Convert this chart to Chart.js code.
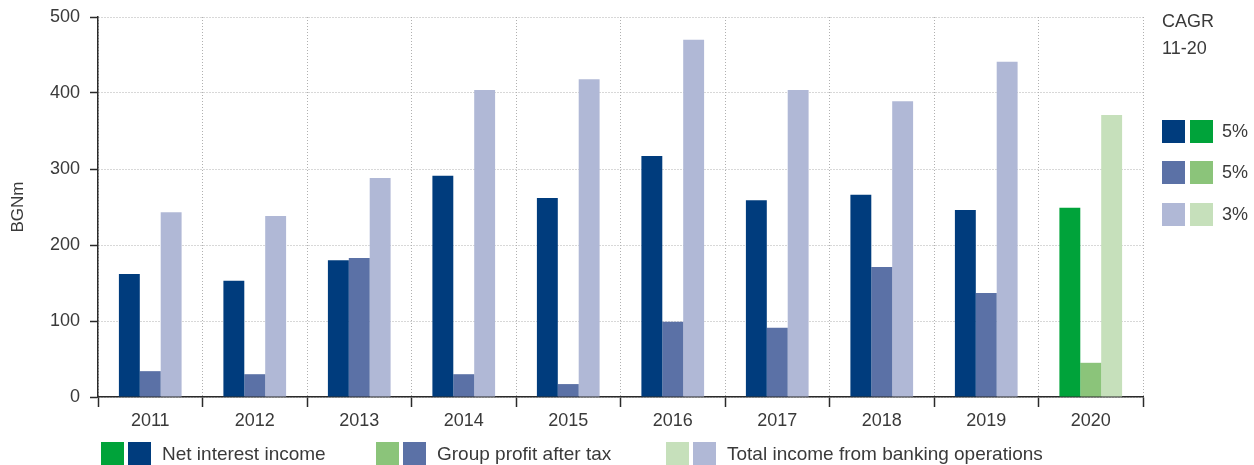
<!DOCTYPE html>
<html>
<head>
<meta charset="utf-8">
<script src="https://cdn.jsdelivr.net/npm/chart.js@4"></script>
<style>
    html, body { margin: 0; padding: 0; background: #fff; }
    #wrap { width: 1254px; height: 465px; }
</style>
</head>
<body>
<div id="wrap"><canvas id="chart" width="1254" height="465"></canvas></div>
<script>
// Données (BGNm)
const years = ['2011', '2012', '2013', '2014', '2015', '2016', '2017', '2018', '2019', '2020'];
const netInterest = [162, 153, 180, 291, 262, 317, 259, 266, 246, 249];
const profitAfterTax = [34, 30, 183, 30, 17, 99, 91, 171, 137, 45];
const totalIncome = [243, 238, 288, 404, 418, 470, 404, 389, 441, 371];
const yTicks = [0, 100, 200, 300, 400, 500];
const seriesNames = ['Net interest income', 'Group profit after tax', 'Total income from banking operations'];
const cagrValues = ['5%', '5%', '3%'];
const highlightYear = '2020';

const blues = ['#003c7d', '#5b71a6', '#b0b8d6'];
const greens = ['#00a33a', '#8bc47a', '#c6e0bb'];
const textColor = '#3a3a3a';
const axisColor = '#2a2a2a';
const gridColor = '#b0b0b0';
const fontFamily = '"Liberation Sans", Arial, sans-serif';

function barColors(i) {
    return years.map(y => y === highlightYear ? greens[i] : blues[i]);
}

// Légendes dessinées sur le canvas
const legendPlugin = {
    id: 'customLegends',
    afterDraw(chart) {
        const ctx = chart.ctx;
        const sw = 23;
        ctx.save();
        ctx.textBaseline = 'middle';
        ctx.textAlign = 'left';
        ctx.fillStyle = textColor;

        // Légende du bas
        const starts = [101, 376, 666];
        ctx.font = '19px ' + fontFamily;
        seriesNames.forEach((name, i) => {
            const x = starts[i];
            ctx.fillStyle = greens[i];
            ctx.fillRect(x, 442, sw, sw);
            ctx.fillStyle = blues[i];
            ctx.fillRect(x + sw + 4, 442, sw, sw);
            ctx.fillStyle = textColor;
            ctx.fillText(name, x + 2 * sw + 15, 455);
        });

        // CAGR à droite
        const rx = 1162;
        ctx.font = '18px ' + fontFamily;
        ctx.fillText('CAGR', rx, 22);
        ctx.fillText('11-20', rx, 49);
        const rowsTop = [120, 161, 203];
        cagrValues.forEach((v, i) => {
            ctx.fillStyle = blues[i];
            ctx.fillRect(rx, rowsTop[i], sw, sw);
            ctx.fillStyle = greens[i];
            ctx.fillRect(rx + sw + 5, rowsTop[i], sw, sw);
            ctx.fillStyle = textColor;
            ctx.fillText(v, rx + 2 * sw + 14, rowsTop[i] + 12);
        });
        ctx.restore();
    }
};

const ctx = document.getElementById('chart').getContext('2d');
new Chart(ctx, {
    type: 'bar',
    data: {
        labels: years,
        datasets: [
            { label: seriesNames[0], data: netInterest, backgroundColor: barColors(0) },
            { label: seriesNames[1], data: profitAfterTax, backgroundColor: barColors(1) },
            { label: seriesNames[2], data: totalIncome, backgroundColor: barColors(2) }
        ]
    },
    options: {
        responsive: false,
        animation: false,
        devicePixelRatio: 1,
        layout: { padding: { top: 17, right: 111, left: 0, bottom: 0 } },
        datasets: {
            bar: { barPercentage: 1, categoryPercentage: 0.6, borderWidth: 0 }
        },
        plugins: {
            legend: { display: false },
            tooltip: { enabled: false }
        },
        scales: {
            x: {
                afterFit(scale) {
                    scale.height = 68;
                    scale.paddingLeft = 0;
                    scale.paddingRight = 0;
                },
                grid: {
                    offset: true,
                    color: gridColor,
                    lineWidth: 1,
                    tickColor: axisColor,
                    tickLength: 10,
                    tickWidth: 1.5
                },
                border: { display: true, color: axisColor, width: 1.5, dash: [1, 2] },
                ticks: {
                    color: textColor,
                    font: { family: fontFamily, size: 18 },
                    padding: 3,
                    maxRotation: 0,
                    autoSkip: false
                }
            },
            y: {
                min: 0,
                max: 500,
                afterFit(scale) {
                    scale.width = 98;
                    scale.paddingTop = 0;
                    scale.paddingBottom = 0;
                },
                afterBuildTicks(scale) { scale.ticks = yTicks.map(v => ({ value: v })); },
                grid: {
                    color: gridColor,
                    lineWidth: 1,
                    tickColor: axisColor,
                    tickLength: 8,
                    tickWidth: 1.5
                },
                border: { display: true, color: axisColor, width: 1.5, dash: [1, 2] },
                ticks: {
                    color: textColor,
                    font: { family: fontFamily, size: 18 },
                    padding: 10
                },
                title: {
                    display: true,
                    text: 'BGNm',
                    color: textColor,
                    font: { family: fontFamily, size: 17 },
                    padding: { top: 8, bottom: 0 }
                }
            }
        }
    },
    plugins: [legendPlugin]
});
</script>
</body>
</html>
